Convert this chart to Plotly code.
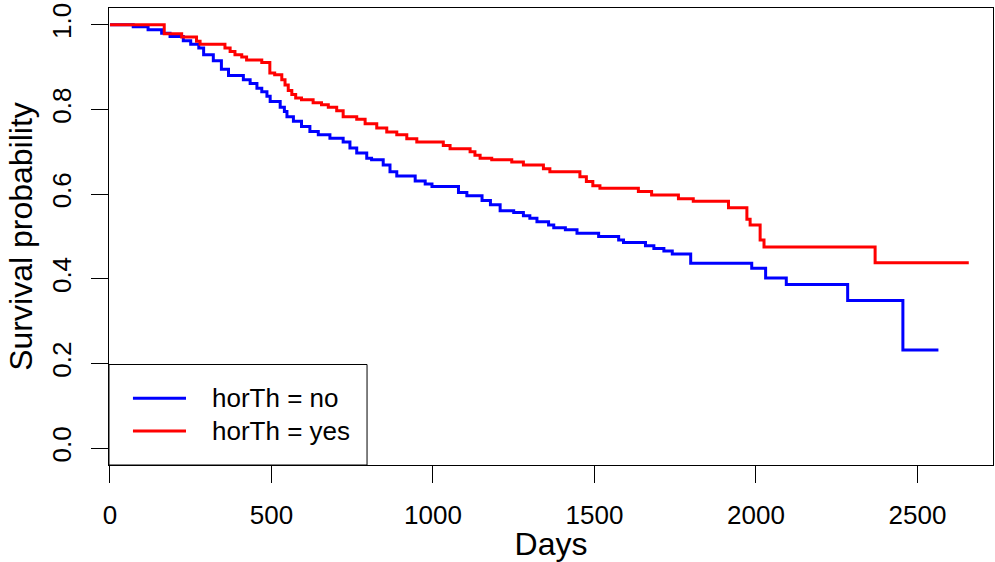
import plotly.graph_objects as go

# Kaplan-Meier step data
no_days = [0, 72, 118, 160, 186, 227, 250, 275, 290, 320, 345, 367, 413, 434, 455, 470, 486, 496,
           527, 540, 548, 568, 593, 619, 645, 681, 722, 743, 764, 795, 810, 846, 867, 888, 945, 976,
           997, 1079, 1105, 1152, 1178, 1208, 1250, 1280, 1300, 1322, 1358, 1374, 1410, 1446, 1513,
           1575, 1590, 1658, 1684, 1715, 1741, 1798, 1987, 2030, 2094, 2284, 2455, 2565]
no_surv = [1.0, 0.995, 0.988, 0.980, 0.972, 0.962, 0.954, 0.945, 0.929, 0.915, 0.895, 0.880, 0.870,
           0.861, 0.850, 0.842, 0.831, 0.819, 0.805, 0.795, 0.783, 0.772, 0.760, 0.748, 0.740, 0.732,
           0.723, 0.709, 0.697, 0.685, 0.681, 0.669, 0.653, 0.643, 0.631, 0.624, 0.618, 0.604, 0.596,
           0.585, 0.575, 0.561, 0.557, 0.549, 0.543, 0.535, 0.527, 0.521, 0.516, 0.508, 0.500, 0.492,
           0.486, 0.478, 0.472, 0.466, 0.459, 0.437, 0.425, 0.402, 0.387, 0.349, 0.232, 0.232]

yes_days = [0, 168, 222, 268, 279, 356, 372, 387, 408, 423, 470, 495, 510, 532, 542, 552, 563, 575,
            593, 629, 655, 676, 702, 722, 764, 790, 826, 857, 888, 919, 950, 1032, 1053, 1115, 1130,
            1146, 1182, 1244, 1280, 1342, 1362, 1455, 1475, 1495, 1517, 1636, 1677, 1760, 1806, 1915,
            1972, 1982, 2013, 2025, 2369, 2659]
yes_surv = [1.0, 0.979, 0.971, 0.961, 0.954, 0.945, 0.937, 0.929, 0.924, 0.917, 0.911, 0.886, 0.882,
            0.870, 0.858, 0.845, 0.835, 0.827, 0.823, 0.816, 0.811, 0.805, 0.797, 0.783, 0.777, 0.766,
            0.756, 0.747, 0.740, 0.731, 0.723, 0.715, 0.707, 0.700, 0.692, 0.685, 0.681, 0.676, 0.669,
            0.660, 0.653, 0.641, 0.630, 0.620, 0.614, 0.606, 0.598, 0.589, 0.583, 0.568, 0.541, 0.527,
            0.492, 0.475, 0.438, 0.438]

series_names = ["horTh = no", "horTh = yes"]
series_colors = ["#0000FF", "#FF0000"]

x_ticks = [0, 500, 1000, 1500, 2000, 2500]
y_ticks = [0.0, 0.2, 0.4, 0.6, 0.8, 1.0]

FONT = "Liberation Sans, Arial, Helvetica, sans-serif"

fig = go.Figure()
for days, surv, name, col in zip([no_days, yes_days], [no_surv, yes_surv], series_names, series_colors):
    fig.add_trace(go.Scatter(x=days, y=surv, mode="lines", name=name,
                             line=dict(color=col, width=3, shape="hv"), showlegend=False))

fig.update_layout(
    width=995, height=562,
    margin=dict(l=109, r=2, t=8, b=97),
    paper_bgcolor="white", plot_bgcolor="white",
    font=dict(family=FONT, color="black", size=26),
    xaxis=dict(range=[-3, 2734], tickvals=x_ticks, ticktext=[str(v) for v in x_ticks],
               showgrid=False, zeroline=False, showline=True, linecolor="black", linewidth=1,
               mirror=True, ticks="outside", ticklen=17, tickcolor="black", tickwidth=1,
               tickfont=dict(size=26), ticklabelstandoff=10,
               title=dict(text="Days", font=dict(size=32), standoff=0)),
    yaxis=dict(range=[-0.0394, 1.0395], tickvals=y_ticks, ticktext=["0.0", "0.2", "0.4", "0.6", "0.8", "1.0"],
               showgrid=False, zeroline=False, showline=True, linecolor="black", linewidth=1,
               mirror=True, ticks="outside", ticklen=17, tickcolor="black", tickwidth=1,
               tickangle=-90, tickfont=dict(size=26), ticklabelstandoff=10,
               title=dict(text="Survival probability", font=dict(size=32), standoff=4)),
)

# legend box drawn in R style (top-left corner at bottom-left of plot)
leg_x1 = 0.2919
leg_y1 = 0.2199
fig.add_shape(type="rect", xref="paper", yref="paper", x0=0, x1=leg_x1, y0=0, y1=leg_y1,
              line=dict(color="black", width=1), fillcolor="white", layer="above")
for name, col, ly in zip(series_names, series_colors, [0.146, 0.0744]):
    fig.add_shape(type="line", xref="paper", yref="paper", x0=0.0271, x1=0.0871, y0=ly, y1=ly,
                  line=dict(color=col, width=3), layer="above")
    fig.add_annotation(xref="paper", yref="paper", x=0.1143, y=ly, text=name, showarrow=False,
                       xanchor="left", yanchor="middle", font=dict(size=26, family=FONT))

fig.write_html("out.html")
